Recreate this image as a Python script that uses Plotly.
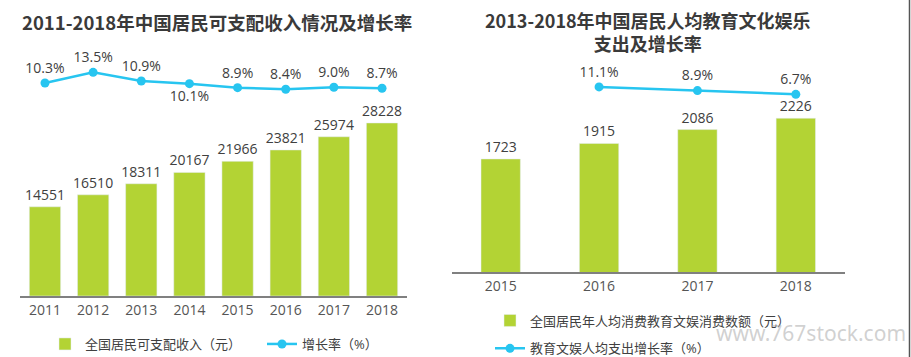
import plotly.graph_objects as go

# ---- data ----
years_left = ["2011", "2012", "2013", "2014", "2015", "2016", "2017", "2018"]
income = [14551, 16510, 18311, 20167, 21966, 23821, 25974, 28228]
income_rate = [10.3, 13.5, 10.9, 10.1, 8.9, 8.4, 9.0, 8.7]

years_right = ["2015", "2016", "2017", "2018"]
edu_spend = [1723, 1915, 2086, 2226]
rate_years_right = ["2016", "2017", "2018"]
edu_rate = [11.1, 8.9, 6.7]

title_left = "<b>2011-2018年中国居民可支配收入情况及增长率</b>"
title_right = "<b>2013-2018年中国居民人均教育文化娱乐</b><br><b>支出及增长率</b>"
legend_left = ["全国居民可支配收入（元）", "增长率（%）"]
legend_right = ["全国居民年人均消费教育文娱消费数额（元）", "教育文娱人均支出增长率（%）"]

GREEN = "#b3d334"
BLUE = "#27c5f0"
TXT = "#404040"
FONT = "Open Sans, Noto Sans CJK SC, sans-serif"

W, H = 911, 357
def px(v):  # horizontal pixel -> paper
    return v / W
def py(v):  # vertical pixel (from top) -> paper
    return (H - v) / H

fig = go.Figure()

fig.add_trace(go.Bar(
    x=years_left, y=income, name=legend_left[0], marker_color=GREEN,
    text=[str(v) for v in income], textposition="outside", constraintext="none",
    textfont=dict(size=14, color=TXT), cliponaxis=False,
    xaxis="x", yaxis="y", legend="legend", width=0.65))
pos_left = ["top center"] * len(income_rate)
pos_left[3] = "bottom center"
fig.add_trace(go.Scatter(
    x=years_left, y=income_rate, name=legend_left[1], mode="lines+markers+text",
    line=dict(color=BLUE, width=2.5), marker=dict(size=9, color=BLUE),
    text=[f"{v:.1f}%" for v in income_rate], textposition=pos_left,
    textfont=dict(size=14, color=TXT), cliponaxis=False,
    xaxis="x", yaxis="y2", legend="legend"))

fig.add_trace(go.Bar(
    x=years_right, y=edu_spend, name=legend_right[0], marker_color=GREEN,
    text=[str(v) for v in edu_spend], textposition="outside", constraintext="none",
    textfont=dict(size=14, color=TXT), cliponaxis=False, legendgroup="a",
    xaxis="x2", yaxis="y3", legend="legend2", width=0.4))
fig.add_trace(go.Scatter(
    x=rate_years_right, y=edu_rate, name=legend_right[1], mode="lines+markers+text",
    line=dict(color=BLUE, width=2.5), marker=dict(size=9, color=BLUE),
    text=[f"{v:.1f}%" for v in edu_rate], textposition="top center",
    textfont=dict(size=14, color=TXT), cliponaxis=False, legendgroup="b",
    xaxis="x2", yaxis="y4", legend="legend2"))

xcommon = dict(type="category", showgrid=False, zeroline=False, showline=True,
               linecolor="#808080", linewidth=1.5, ticks="",
               tickfont=dict(size=14, color="#555555"))
ycommon = dict(showgrid=False, zeroline=False, showline=False, showticklabels=False)

left_dom = [py(296), py(60)]
right_dom = [py(272), py(60)]

fig.update_layout(
    width=W, height=H, margin=dict(l=0, r=0, t=0, b=0, autoexpand=False),
    paper_bgcolor="white", plot_bgcolor="white",
    font=dict(family=FONT, color=TXT),
    xaxis=dict(xcommon, domain=[px(20), px(407)], anchor="y",
               categoryorder="array", categoryarray=years_left),
    yaxis=dict(ycommon, domain=left_dom, range=[0, 38500], anchor="x"),
    yaxis2=dict(ycommon, domain=left_dom, range=[-53.7, 17.2], overlaying="y", anchor="x"),
    xaxis2=dict(xcommon, domain=[px(451.5), px(845)], anchor="y3",
                categoryorder="array", categoryarray=years_right),
    yaxis3=dict(ycommon, domain=right_dom, range=[326, 2946], anchor="x2"),
    yaxis4=dict(ycommon, domain=right_dom, range=[-98.9, 27.1], overlaying="y3", anchor="x2"),
    legend=dict(orientation="h", x=px(45), xanchor="left", y=py(344), yanchor="middle",
                font=dict(size=13, color=TXT), bgcolor="rgba(0,0,0,0)",
                traceorder="normal", entrywidth=172),
    legend2=dict(orientation="v", x=px(490), xanchor="left", y=py(334.5), yanchor="middle",
                 font=dict(size=13, color=TXT), bgcolor="rgba(0,0,0,0)",
                 traceorder="grouped", tracegroupgap=8),
    annotations=[
        dict(text=title_left, x=px(217), y=py(22), xref="paper", yref="paper",
             showarrow=False, font=dict(size=18.5, color="#3a3a3a", family="Noto Sans CJK SC"),
             xanchor="center", yanchor="middle"),
        dict(text=title_right, x=px(648), y=py(31), xref="paper", yref="paper",
             showarrow=False, font=dict(size=18, color="#3a3a3a", family="Noto Sans CJK SC"),
             xanchor="center", yanchor="middle"),
        dict(text="www.767stock.com", x=px(908), y=py(333), xref="paper", yref="paper",
             showarrow=False, font=dict(size=21, color="rgba(170,170,170,0.55)", family="Noto Sans"),
             xanchor="right", yanchor="middle"),
    ],
    shapes=[dict(type="line", xref="paper", yref="paper", x0=px(909.5), x1=px(909.5),
                 y0=0, y1=1, line=dict(color="#555555", width=1.5))],
)

fig.write_html("out.html", config={"displayModeBar": False},
               post_script="document.body.style.margin='0';document.body.style.overflow='hidden';")
